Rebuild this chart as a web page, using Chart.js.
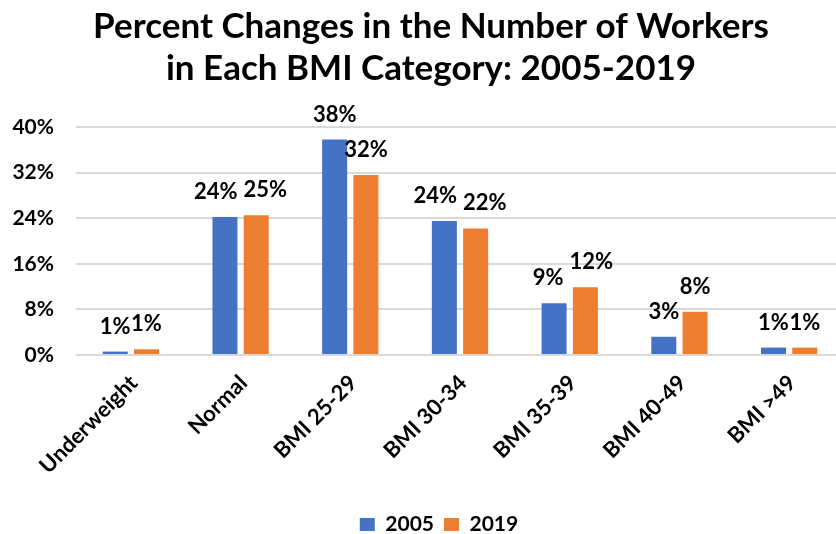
<!DOCTYPE html>
<html>
<head>
<meta charset="utf-8">
<script src="https://cdn.jsdelivr.net/npm/chart.js@4"></script>
<style>
  html, body { margin: 0; padding: 0; background: #fff; overflow: hidden; }
  #wrap { position: relative; width: 836px; height: 534px; overflow: hidden; }
  canvas { position: absolute; left: 0; top: 0; }
</style>
</head>
<body>
<div id="wrap"><canvas id="bmiChart" width="878" height="545"></canvas></div>
<script>
// --- dados ---
const categories = ['Underweight', 'Normal', 'BMI 25-29', 'BMI 30-34', 'BMI 35-39', 'BMI 40-49', 'BMI >49'];
const values2005 = [0.6, 24.2, 37.8, 23.5, 9.1, 3.2, 1.3];
const values2019 = [1.0, 24.5, 31.6, 22.2, 11.9, 7.6, 1.3];
const yTicks = [0, 8, 16, 24, 32, 40];
const titleLines = ['Percent Changes in the Number of Workers', 'in Each BMI Category: 2005-2019'];

const FONT = 'Lato, "Open Sans", sans-serif';

// rótulos em cima das barras (afasta os que se sobrepõem)
const barLabels = {
  id: 'barLabels',
  afterLayout(chart) {
    // centra título e legenda como no original (canvas é mais largo que a janela)
    if (chart.titleBlock) chart.titleBlock.left = 18;
    if (chart.legend) chart.legend.left = 34;
  },
  afterDatasetsDraw(chart) {
    const ctx = chart.ctx;
    ctx.save();
    ctx.font = 'bold 22px ' + FONT;
    ctx.fillStyle = '#000';
    ctx.textAlign = 'center';
    ctx.textBaseline = 'alphabetic';
    const metaA = chart.getDatasetMeta(0).data;
    const metaB = chart.getDatasetMeta(1).data;
    metaA.forEach((barA, j) => {
      const barB = metaB[j];
      const tA = Math.round(chart.data.datasets[0].data[j]) + '%';
      const tB = Math.round(chart.data.datasets[1].data[j]) + '%';
      const wA = ctx.measureText(tA).width, wB = ctx.measureText(tB).width;
      let xA = barA.x, xB = barB.x;
      const yA = barA.y - 18, yB = barB.y - 18;
      const overlap = (wA + wB) / 2 + 6 - (xB - xA);
      if (Math.abs(yA - yB) < 20 && overlap > 6) {
        xA -= overlap / 2;
        xB += overlap / 2;
      }
      ctx.fillText(tA, xA, yA);
      ctx.fillText(tB, xB, yB);
    });
    ctx.restore();
  }
};

new Chart(document.getElementById('bmiChart'), {
  type: 'bar',
  data: {
    labels: categories,
    datasets: [
      { label: '2005', data: values2005, backgroundColor: '#4472C4', barPercentage: 0.8, categoryPercentage: 0.57 },
      { label: '2019', data: values2019, backgroundColor: '#ED7D31', barPercentage: 0.8, categoryPercentage: 0.57 }
    ]
  },
  options: {
    responsive: false,
    animation: false,
    devicePixelRatio: 1,
    layout: { padding: { left: 0, right: 34, top: 0, bottom: 0 } },
    plugins: {
      title: {
        display: true,
        text: titleLines,
        color: '#000',
        font: { family: FONT, size: 35, weight: 'bold', lineHeight: 1.2 },
        padding: { top: 6, bottom: 37 }
      },
      legend: {
        position: 'bottom',
        labels: {
          color: '#000',
          font: { family: FONT, size: 21, weight: 'bold' },
          boxWidth: 15,
          boxHeight: 13,
          padding: 10
        }
      },
      tooltip: { enabled: false }
    },
    scales: {
      x: {
        grid: { display: false, drawTicks: false },
        border: { display: false },
        ticks: {
          color: '#000',
          font: { family: FONT, size: 22, weight: 'bold' },
          minRotation: 45,
          maxRotation: 45,
          padding: 15,
          labelOffset: 3
        },
        afterFit: (s) => { s.height = 149; }
      },
      y: {
        min: 0,
        max: 40,
        afterBuildTicks: (s) => { s.ticks = yTicks.map(v => ({ value: v })); },
        grid: { color: '#d9d9d9', lineWidth: 2, drawTicks: false },
        border: { display: false },
        ticks: {
          color: '#000',
          font: { family: FONT, size: 21, weight: 'bold' },
          padding: 22,
          callback: (v) => v + '%'
        },
        afterFit: (s) => { s.width = 76; }
      }
    }
  },
  plugins: [barLabels]
});
</script>
</body>
</html>
